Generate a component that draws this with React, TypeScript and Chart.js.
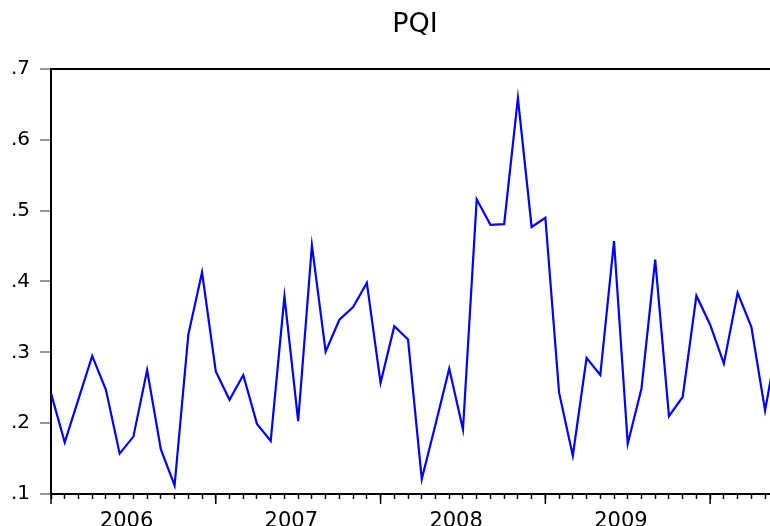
import React, { useEffect, useRef } from 'react';
import { Chart, registerables } from 'chart.js';

Chart.register(...registerables);

// Monthly PQI values starting 2006M1
const pqiValues = [
  0.242, 0.173, 0.234, 0.295, 0.247, 0.157, 0.181, 0.275, 0.163, 0.112,
  0.325, 0.413, 0.273, 0.233, 0.268, 0.199, 0.175, 0.379, 0.203, 0.451,
  0.301, 0.346, 0.364, 0.398, 0.257, 0.337, 0.318, 0.121, 0.198, 0.277,
  0.191, 0.516, 0.480, 0.481, 0.659, 0.477, 0.490, 0.243, 0.154, 0.292,
  0.268, 0.457, 0.171, 0.249, 0.431, 0.210, 0.237, 0.380, 0.339, 0.284,
  0.384, 0.336, 0.218, 0.325,
];
const yearLabels = ['2006', '2007', '2008', '2009'];
const monthsPerYear = 12;
const yTickValues = [0.1, 0.2, 0.3, 0.4, 0.5, 0.6, 0.7];
const xMax = 56.46;

export default function App() {
  const ref = useRef<HTMLCanvasElement>(null);

  useEffect(() => {
    if (!ref.current) return;
    const points = pqiValues.map((v, i) => ({ x: i, y: v }));

    const majorTickPlugin = {
      id: 'majorTicks',
      afterDraw(chart: any) {
        const s = chart.scales.x;
        const ctx = chart.ctx;
        ctx.save();
        ctx.strokeStyle = '#000';
        ctx.lineWidth = 1.5;
        for (let k = 0; k <= yearLabels.length; k++) {
          const x = s.getPixelForValue(k * monthsPerYear);
          ctx.beginPath();
          ctx.moveTo(x, s.top);
          ctx.lineTo(x, s.top + 10);
          ctx.stroke();
        }
        ctx.restore();
      },
    };

    const chart = new Chart(ref.current, {
      type: 'line',
      data: {
        datasets: [
          {
            data: points,
            borderColor: '#0000ff',
            borderWidth: 2.2,
            pointRadius: 0,
            tension: 0,
            fill: false,
          },
        ],
      },
      options: {
        animation: false,
        responsive: false,
        layout: { padding: 0 },
        plugins: {
          legend: { display: false },
          tooltip: { enabled: false },
          title: {
            display: true,
            text: 'PQI',
            color: '#000',
            font: { family: 'DejaVu Sans', size: 27, weight: 'normal' },
            padding: { top: 9, bottom: 27.6 },
          },
        },
        scales: {
          x: {
            type: 'linear',
            min: 0,
            max: xMax,
            afterBuildTicks: (s: any) => {
              const t: any[] = [];
              for (let v = 0; v <= xMax; v += 0.5) t.push({ value: v });
              s.ticks = t;
            },
            afterFit: (s: any) => {
              s.height = 32;
            },
            ticks: {
              autoSkip: false,
              maxRotation: 0,
              minRotation: 0,
              padding: 10,
              color: '#000',
              font: { family: 'DejaVu Sans', size: 21 },
              callback: (v: any) => {
                const k = (Number(v) - 5.5) / monthsPerYear;
                return Number.isInteger(k) && k >= 0 && k < yearLabels.length ? yearLabels[k] : '';
              },
            },
            grid: {
              drawOnChartArea: false,
              drawTicks: true,
              tickLength: 5,
              tickWidth: 1.5,
              tickColor: (c: any) =>
                c.tick && Number.isInteger(c.tick.value) ? '#000' : 'rgba(0,0,0,0)',
            },
            border: { display: true, color: '#000', width: 2 },
          },
          y: {
            min: 0.1,
            max: 0.7,
            afterBuildTicks: (s: any) => {
              s.ticks = yTickValues.map((v) => ({ value: v }));
            },
            afterFit: (s: any) => {
              s.width = 51;
            },
            ticks: {
              padding: 10,
              color: '#000',
              font: { family: 'DejaVu Sans', size: 20 },
              callback: (v: any) => '.' + Math.round(Number(v) * 10),
            },
            grid: {
              drawOnChartArea: true,
              tickLength: 11,
              tickWidth: 2,
              tickColor: '#999',
              lineWidth: 2,
              color: (c: any) =>
                c.tick && Math.abs(c.tick.value - 0.7) < 1e-6 ? '#000' : 'rgba(0,0,0,0)',
            },
            border: { display: true, color: '#000', width: 2 },
          },
        },
      },
      plugins: [majorTickPlugin],
    } as any);

    return () => chart.destroy();
  }, []);

  return (
    <div
      style={{
        position: 'fixed',
        left: 0,
        top: 0,
        width: 770,
        height: 526,
        overflow: 'hidden',
        background: '#fff',
      }}
    >
      <canvas ref={ref} width={830} height={526} style={{ display: 'block' }} />
    </div>
  );
}
